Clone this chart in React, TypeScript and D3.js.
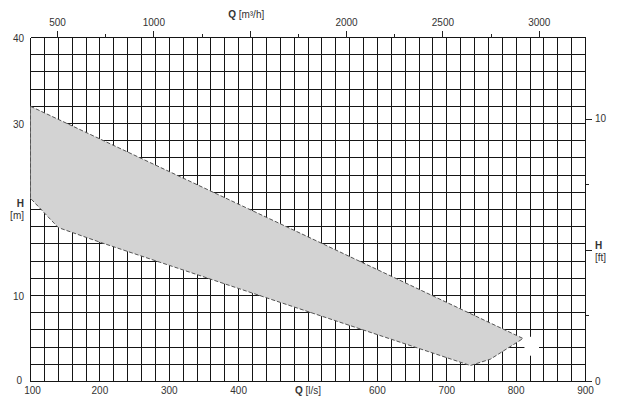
import React from "react";
import * as d3 from "d3";

const W = 617;
const H = 398;

// Flow (l/s) and head (m) of the operating range envelope
const qUpper = [100, 490, 810];
const hUpper = [32.0, 17.2, 5.0];
const qLower = [100, 140, 200, 460, 734, 763, 810];
const hLower = [21.3, 17.9, 16.2, 9.2, 1.86, 2.6, 5.0];

// Axis tick labels
const bottomTicks = [100, 200, 300, 400, 600, 700, 800, 900];
const leftTicks = [40, 30, 10, 0];
const topMajor = [500, 1000, 1500, 2000, 2500, 3000];
const topLabels = [500, 1000, 2000, 2500, 3000];
const topMinor = [750, 1250, 1750, 2250, 2750];
const rightTicks = [0, 25, 50, 75, 100];
const rightLabels = [
  { ft: 0, text: "0" },
  { ft: 100, text: "10" },
];

const FONT = "'Liberation Sans', Arial, sans-serif";
const TXT = "#333";

export default function App() {
  const x = d3.scaleLinear().domain([100, 900]).range([30.5, 585.5]);
  const y = d3.scaleLinear().domain([0, 40]).range([381.5, 37.5]);
  const xTop = d3.scaleLinear().domain([100 * 3.6, 900 * 3.6]).range([30.5, 585.5]);
  const yFt = (ft: number) => y(ft * 0.3048);

  const vGrid = d3.range(100, 901, 20);
  const hGrid = d3.range(0, 41, 2);

  const pts: [number, number][] = [];
  qUpper.forEach((q, i) => pts.push([x(q), y(hUpper[i])]));
  for (let i = qLower.length - 2; i >= 0; i--) pts.push([x(qLower[i]), y(hLower[i])]);
  const line = d3.line().curve(d3.curveLinearClosed);
  const pathD = line(pts) || "";

  return (
    <svg
      width={W}
      height={H}
      style={{ position: "absolute", left: 0, top: 0, background: "#fff" }}
      fontFamily={FONT}
    >
      <rect x={0} y={0} width={W} height={H} fill="#fff" />
      {/* grid */}
      <g stroke="#151515" strokeWidth={1} shapeRendering="crispEdges">
        {vGrid.map((v) => (
          <line key={"v" + v} x1={x(v)} x2={x(v)} y1={y(0)} y2={y(40)} />
        ))}
        {hGrid.map((h) => (
          <line key={"h" + h} x1={x(100)} x2={x(900)} y1={y(h)} y2={y(h)} />
        ))}
      </g>
      {/* white mask near the right tip */}
      <rect
        x={x(812)}
        y={y(5.2)}
        width={x(833) - x(812)}
        height={y(3.0) - y(5.2)}
        fill="#fff"
      />
      {/* envelope */}
      <path d={pathD} fill="#d3d3d3" stroke="#555" strokeWidth={1} strokeDasharray="4,2" />

      {/* axis ticks */}
      <g stroke="#222" strokeWidth={1} shapeRendering="crispEdges">
        {topMajor.map((v) => (
          <line key={"tm" + v} x1={xTop(v)} x2={xTop(v)} y1={y(40)} y2={y(40) - 7} />
        ))}
        {topMinor.map((v) => (
          <line key={"tn" + v} x1={xTop(v)} x2={xTop(v)} y1={y(40)} y2={y(40) - 4} />
        ))}
        {rightTicks.map((v) => (
          <line
            key={"r" + v}
            x1={x(900)}
            x2={x(900) + (v % 50 === 0 ? 6 : 3)}
            y1={yFt(v)}
            y2={yFt(v)}
          />
        ))}
      </g>
      <g fontSize={10} fill={TXT}>
        {topLabels.map((v) => (
          <text key={"tl" + v} x={xTop(v)} y={26} textAnchor="middle">
            {v}
          </text>
        ))}
        <text x={xTop(1500) - 4} y={18} textAnchor="middle">
          <tspan fontWeight="bold">Q</tspan>
          <tspan> [m³/h]</tspan>
        </text>
        {leftTicks.map((v) => (
          <text
            key={"l" + v}
            x={v === 0 ? 22 : 24}
            y={y(v) + (v === 0 ? 2 : 4)}
            textAnchor="end"
          >
            {v}
          </text>
        ))}
        <text x={24} y={207} textAnchor="end" fontWeight="bold">
          H
        </text>
        <text x={24} y={219} textAnchor="end">
          [m]
        </text>
        {bottomTicks.map((v) => (
          <text key={"b" + v} x={x(v) + (v === 100 ? 2 : 0)} y={394} textAnchor="middle">
            {v}
          </text>
        ))}
        <text x={x(500)} y={394} textAnchor="middle">
          <tspan fontWeight="bold">Q</tspan>
          <tspan> [l/s]</tspan>
        </text>
        {rightLabels.map((r) => (
          <text key={"rl" + r.ft} x={595} y={yFt(r.ft) + 3}>
            {r.text}
          </text>
        ))}
        <text x={595} y={yFt(50) - 1} fontWeight="bold">
          H
        </text>
        <text x={595} y={yFt(50) + 11}>
          [ft]
        </text>
      </g>
    </svg>
  );
}
